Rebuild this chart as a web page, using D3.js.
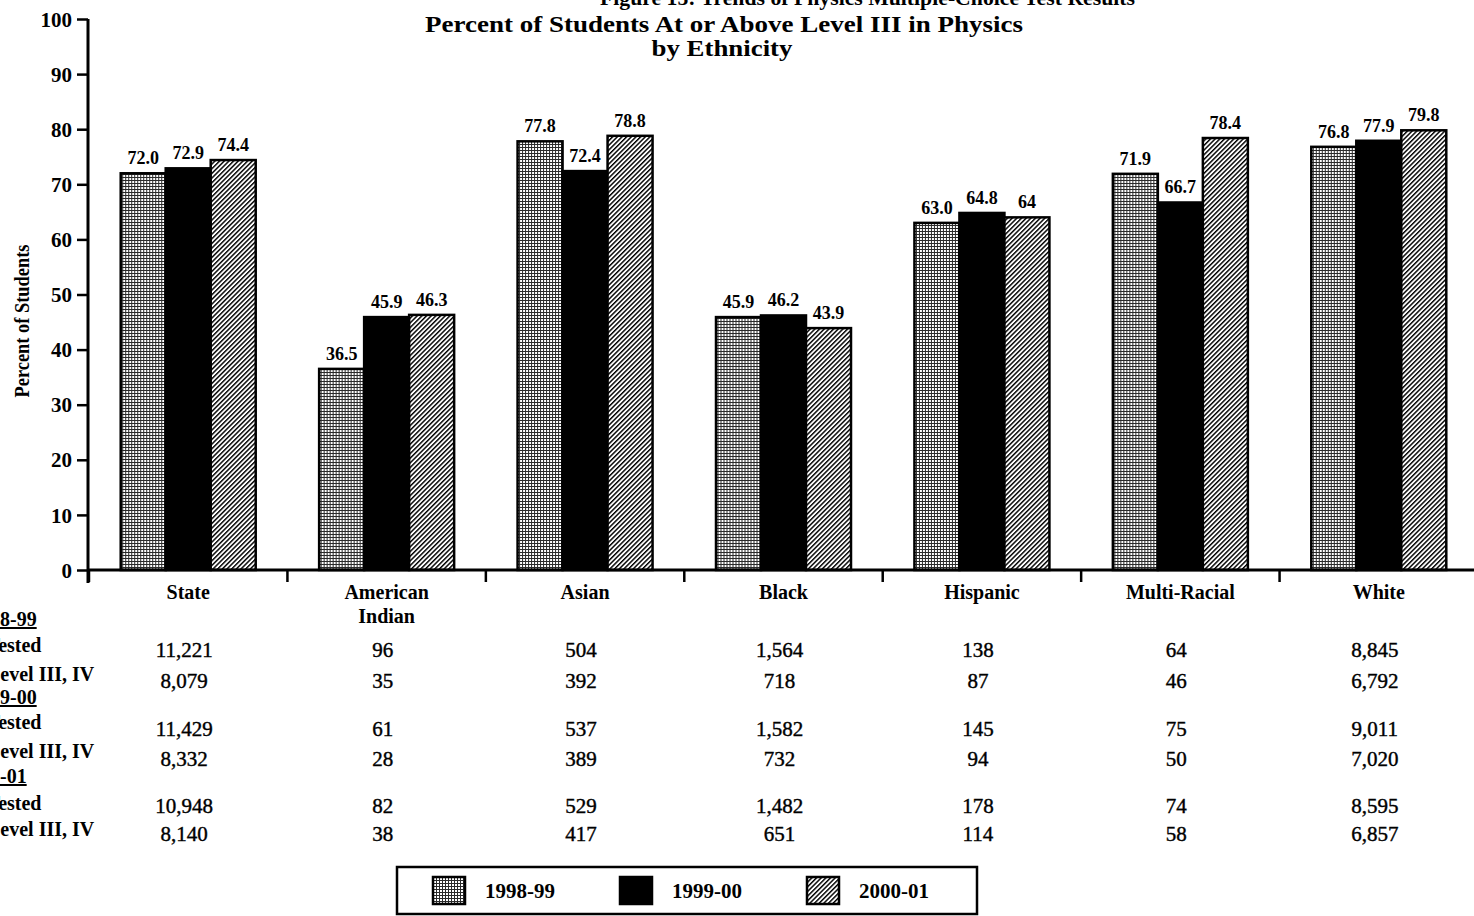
<!DOCTYPE html>
<html>
<head>
<meta charset="utf-8">
<script src="https://cdn.jsdelivr.net/npm/d3@7"></script>
<style>
  html, body { margin: 0; padding: 0; background: #fff; overflow: hidden; }
  svg { display: block; font-family: "Liberation Serif", "Times New Roman", serif; }
</style>
</head>
<body>
<svg id="chart" width="1474" height="916"></svg>
<script>
// ---------- data ----------
const categories = ["State", "American Indian", "Asian", "Black", "Hispanic", "Multi-Racial", "White"];
const seriesNames = ["1998-99", "1999-00", "2000-01"];
const values9899 = [72.0, 36.5, 77.8, 45.9, 63.0, 71.9, 76.8];
const values9900 = [72.9, 45.9, 72.4, 46.2, 64.8, 66.7, 77.9];
const values0001 = [74.4, 46.3, 78.8, 43.9, 64, 78.4, 79.8];
const labels9899 = ["72.0", "36.5", "77.8", "45.9", "63.0", "71.9", "76.8"];
const labels9900 = ["72.9", "45.9", "72.4", "46.2", "64.8", "66.7", "77.9"];
const labels0001 = ["74.4", "46.3", "78.8", "43.9", "64", "78.4", "79.8"];
const yTicks = [0, 10, 20, 30, 40, 50, 60, 70, 80, 90, 100];

const tested9899 = [11221, 96, 504, 1564, 138, 64, 8845];
const level9899  = [8079, 35, 392, 718, 87, 46, 6792];
const tested9900 = [11429, 61, 537, 1582, 145, 75, 9011];
const level9900  = [8332, 28, 389, 732, 94, 50, 7020];
const tested0001 = [10948, 82, 529, 1482, 178, 74, 8595];
const level0001  = [8140, 38, 417, 651, 114, 58, 6857];
const tableRowLabels = ["1998-99", "# Tested", "# Level III, IV", "1999-00", "# Tested", "# Level III, IV", "2000-01", "# Tested", "# Level III, IV"];

const titleTop = "Figure 15: Trends of Physics Multiple-Choice Test Results";
const title1 = "Percent of Students At or Above Level III in Physics";
const title2 = "by Ethnicity";
const yTitle = "Percent of Students";

// ---------- setup ----------
const svg = d3.select("#chart");
const seriesValues = [values9899, values9900, values0001];
const seriesLabels = [labels9899, labels9900, labels0001];
const fills = ["url(#grid)", "#000", "url(#hatch)"];

const defs = svg.append("defs");
const grid = defs.append("pattern").attr("id", "grid").attr("patternUnits", "userSpaceOnUse")
  .attr("width", 3).attr("height", 3);
grid.append("rect").attr("width", 3).attr("height", 3).attr("fill", "#fff");
grid.append("path").attr("d", "M0 0.5H3M0.5 0V3").attr("stroke", "#2a2a2a").attr("stroke-width", 1);

const hatch = defs.append("pattern").attr("id", "hatch").attr("patternUnits", "userSpaceOnUse")
  .attr("width", 3.3).attr("height", 3.3).attr("patternTransform", "rotate(45)");
hatch.append("rect").attr("width", 3.3).attr("height", 3.3).attr("fill", "#fff");
hatch.append("line").attr("x1", 0.7).attr("y1", 0).attr("x2", 0.7).attr("y2", 3.3)
  .attr("stroke", "#000").attr("stroke-width", 1.5);

const x = d3.scaleBand().domain(categories).range([89, 1478]).paddingInner(0).paddingOuter(0);
const y = d3.scaleLinear().domain([0, 100]).range([570, 19]);
const barW = 45;
const xs = d3.scaleBand().domain(seriesNames).range([-barW * 1.5, barW * 1.5]);

// ---------- titles ----------
svg.append("text").attr("x", 600).attr("y", 5).attr("font-weight", "bold").attr("font-size", 22)
  .attr("textLength", 535).attr("lengthAdjust", "spacingAndGlyphs").text(titleTop);
svg.append("text").attr("x", 724).attr("y", 32).attr("text-anchor", "middle")
  .attr("font-weight", "bold").attr("font-size", 23)
  .attr("textLength", 598).attr("lengthAdjust", "spacingAndGlyphs").text(title1);
svg.append("text").attr("x", 722).attr("y", 56).attr("text-anchor", "middle")
  .attr("font-weight", "bold").attr("font-size", 23)
  .attr("textLength", 141).attr("lengthAdjust", "spacingAndGlyphs").text(title2);

svg.append("text").attr("transform", "translate(29,321) rotate(-90)").attr("text-anchor", "middle")
  .attr("font-weight", "bold").attr("font-size", 20)
  .attr("textLength", 153).attr("lengthAdjust", "spacingAndGlyphs").text(yTitle);

// ---------- bars ----------
const groups = svg.append("g").selectAll("g").data(categories).join("g")
  .attr("transform", d => `translate(${x(d) + x.bandwidth() / 2},0)`);

seriesNames.forEach((s, si) => {
  groups.append("rect")
    .attr("x", xs(s))
    .attr("y", (d, i) => y(seriesValues[si][i]))
    .attr("width", barW)
    .attr("height", (d, i) => y(0) - y(seriesValues[si][i]))
    .attr("fill", fills[si])
    .attr("stroke", "#000").attr("stroke-width", 2.5);
  groups.append("text")
    .attr("x", xs(s) + barW / 2)
    .attr("y", (d, i) => y(seriesValues[si][i]) - 9)
    .attr("text-anchor", "middle").attr("font-weight", "bold").attr("font-size", 18)
    .text((d, i) => seriesLabels[si][i]);
});

// ---------- axes ----------
const yAxis = svg.append("g").attr("transform", "translate(88,0)")
  .call(d3.axisLeft(y).tickValues(yTicks).tickSize(11).tickPadding(5).tickFormat(d3.format("d")));
yAxis.select(".domain").attr("stroke", "#000").attr("stroke-width", 3)
  .attr("d", `M0,${y(100)}V583`);
yAxis.selectAll(".tick line").attr("stroke", "#000").attr("stroke-width", 2.5);
yAxis.selectAll(".tick text").attr("font-size", 21).attr("font-weight", "bold").attr("fill", "#000")
  .attr("font-family", "Liberation Serif, serif").attr("dy", "0.34em");

const xAxis = svg.append("g").attr("transform", `translate(0,${y(0)})`)
  .call(d3.axisBottom(x).tickSize(0).tickFormat(""));
xAxis.select(".domain").attr("stroke", "#000").attr("stroke-width", 3).attr("d", "M88,0H1474");
xAxis.selectAll(".tick").remove();
xAxis.selectAll(".cattick").data(categories).join("line").attr("class", "cattick")
  .attr("x1", d => x(d)).attr("x2", d => x(d)).attr("y1", 0).attr("y2", 12)
  .attr("stroke", "#000").attr("stroke-width", 2.5);

// category labels
const catText = svg.append("g").selectAll("text").data(categories).join("text")
  .attr("x", d => x(d) + x.bandwidth() / 2).attr("y", 599)
  .attr("text-anchor", "middle").attr("font-weight", "bold").attr("font-size", 20);
catText.each(function (d) {
  const words = d === "American Indian" ? ["American", "Indian"] : [d];
  const t = d3.select(this);
  words.forEach((w, i) => t.append("tspan").attr("x", x(d) + x.bandwidth() / 2).attr("dy", i === 0 ? 0 : 24).text(w));
});

// ---------- data table ----------
const fmt = d3.format(",");
const tableRows = [tested9899, level9899, tested9900, level9900, tested0001, level0001];
const rowY = [657, 688, 736, 766, 813, 841];
tableRows.forEach((row, ri) => {
  svg.append("g").selectAll("text").data(row).join("text")
    .attr("x", (d, i) => x(categories[i]) + x.bandwidth() / 2 - 4)
    .attr("y", rowY[ri])
    .attr("text-anchor", "middle").attr("font-size", 21)
    .attr("stroke", "#000").attr("stroke-width", 0.4)
    .text(d => fmt(d));
});

const rowLabelY = [626, 652, 681, 704, 729, 758, 783, 810, 836];
const rowLabelX = [-30, -28, -28, -30, -28, -28, -40, -28, -28];
svg.append("g").selectAll("text").data(tableRowLabels).join("text")
  .attr("x", (d, i) => rowLabelX[i])
  .attr("y", (d, i) => rowLabelY[i])
  .attr("font-weight", "bold").attr("font-size", 20)
  .attr("text-decoration", (d, i) => i % 3 === 0 ? "underline" : null)
  .text(d => d);

// ---------- legend ----------
const legend = svg.append("g");
legend.append("rect").attr("x", 397).attr("y", 867).attr("width", 580).attr("height", 47)
  .attr("fill", "none").attr("stroke", "#000").attr("stroke-width", 2.5);
const legX = d3.scalePoint().domain(seriesNames).range([433, 807]);
const li = legend.selectAll("g.li").data(seriesNames).join("g").attr("class", "li")
  .attr("transform", d => `translate(${legX(d)},877)`);
li.append("rect").attr("width", 32).attr("height", 27)
  .attr("fill", (d, i) => fills[i]).attr("stroke", "#000").attr("stroke-width", 2.5);
li.append("text").attr("x", 52).attr("y", 21).attr("font-weight", "bold").attr("font-size", 21)
  .text(d => d);
</script>
</body>
</html>
